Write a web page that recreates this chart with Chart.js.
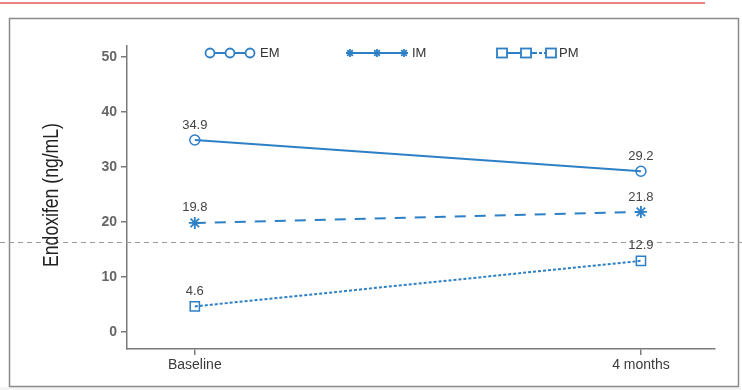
<!DOCTYPE html>
<html>
<head>
<meta charset="utf-8">
<script src="https://cdn.jsdelivr.net/npm/chart.js@4/dist/chart.umd.min.js"></script>
<style>
  html, body { margin: 0; padding: 0; background: #fff; }
  #wrap { width: 742px; height: 390px; position: relative; }
</style>
</head>
<body>
<div id="wrap"><canvas id="c" width="742" height="390"></canvas></div>
<script>
// Timepoints and endoxifen concentrations (ng/mL) per metabolizer group
const timepoints = ['Baseline', '4 months'];
const emValues = [34.9, 29.2];
const imValues = [19.8, 21.8];
const pmValues = [4.6, 12.9];
const yTickValues = [0, 10, 20, 30, 40, 50];
const threshold = 16.3;

const blue = '#2d7fc6';
const axisGray = '#7a7a7a';

function pts(vals) { return vals.map((v, i) => ({ x: i, y: v })); }

// Frame, top rule, threshold line, legend, axis title and value labels
const decor = {
  id: 'decor',
  beforeDraw(chart) {
    const ctx = chart.ctx;
    ctx.save();
    ctx.fillStyle = '#f4f4f4';
    ctx.fillRect(0, 387, 742, 3);
    ctx.strokeStyle = '#e05a5a';
    ctx.lineWidth = 1.5;
    ctx.beginPath(); ctx.moveTo(0, 3); ctx.lineTo(705, 3); ctx.stroke();
    ctx.strokeStyle = '#8a8a8a';
    ctx.lineWidth = 1.5;
    ctx.strokeRect(9.5, 18.5, 729, 368);
    ctx.restore();
  },
  afterDatasetsDraw(chart) {
    const ctx = chart.ctx;
    const ys = chart.scales.y, xs = chart.scales.x;
    ctx.save();
    // threshold line
    const ty = Math.round(ys.getPixelForValue(threshold)) + 0.5;
    ctx.strokeStyle = '#9a9a9a';
    ctx.lineWidth = 1;
    ctx.setLineDash([5, 4]);
    ctx.beginPath(); ctx.moveTo(0, ty); ctx.lineTo(742, ty); ctx.stroke();
    ctx.setLineDash([]);

    // value labels
    ctx.fillStyle = '#444';
    ctx.font = '13px "Liberation Sans", Arial, sans-serif';
    ctx.textAlign = 'center';
    ctx.textBaseline = 'middle';
    [emValues, imValues, pmValues].forEach(vals => {
      vals.forEach((v, i) => {
        ctx.fillText(v.toFixed(1), xs.getPixelForValue(i), ys.getPixelForValue(v) - 15);
      });
    });

    // axis title, horizontally condensed
    ctx.save();
    ctx.translate(52, 195);
    ctx.rotate(-Math.PI / 2);
    ctx.scale(0.8, 1);
    ctx.fillStyle = '#222';
    ctx.font = '22px "Liberation Sans", Arial, sans-serif';
    ctx.textAlign = 'center';
    ctx.textBaseline = 'middle';
    ctx.fillText('Endoxifen (ng/mL)', 0, 0);
    ctx.restore();

    // legend
    const ly = 53;
    ctx.strokeStyle = blue;
    ctx.fillStyle = blue;
    ctx.lineWidth = 1.8;
    // EM
    ctx.beginPath(); ctx.moveTo(205, ly); ctx.lineTo(255, ly); ctx.stroke();
    [210, 230, 250].forEach(x => {
      ctx.fillStyle = '#fff';
      ctx.beginPath(); ctx.arc(x, ly, 4.5, 0, Math.PI * 2); ctx.fill(); ctx.stroke();
    });
    // IM
    ctx.beginPath(); ctx.moveTo(346, ly); ctx.lineTo(408, ly); ctx.stroke();
    [350, 377, 404].forEach(x => {
      for (let a = 0; a < 4; a++) {
        const ang = a * Math.PI / 4;
        ctx.beginPath();
        ctx.moveTo(x - 4 * Math.cos(ang), ly - 4 * Math.sin(ang));
        ctx.lineTo(x + 4 * Math.cos(ang), ly + 4 * Math.sin(ang));
        ctx.stroke();
      }
    });
    // PM
    ctx.beginPath(); ctx.moveTo(497, ly); ctx.lineTo(534, ly); ctx.stroke();
    ctx.setLineDash([3, 2]);
    ctx.beginPath(); ctx.moveTo(534, ly); ctx.lineTo(552, ly); ctx.stroke();
    ctx.setLineDash([]);
    [502, 526, 551].forEach(x => {
      ctx.fillStyle = '#fff';
      ctx.fillRect(x - 5, ly - 4.5, 10, 9);
      ctx.strokeRect(x - 5, ly - 4.5, 10, 9);
    });
    ctx.fillStyle = '#333';
    ctx.font = '13px "Liberation Sans", Arial, sans-serif';
    ctx.textAlign = 'left';
    ctx.fillText('EM', 260, ly);
    ctx.fillText('IM', 412, ly);
    ctx.fillText('PM', 559, ly);
    ctx.restore();
  }
};

new Chart(document.getElementById('c'), {
  type: 'line',
  data: {
    datasets: [
      { label: 'EM', data: pts(emValues), borderColor: blue, backgroundColor: 'rgba(0,0,0,0)',
        borderWidth: 2, pointStyle: 'circle', pointRadius: 5, pointBorderWidth: 1.5 },
      { label: 'IM', data: pts(imValues), borderColor: blue, backgroundColor: blue,
        borderWidth: 2, borderDash: [11, 9], pointStyle: 'star', pointRadius: 6, pointBorderWidth: 1.8 },
      { label: 'PM', data: pts(pmValues), borderColor: blue, backgroundColor: 'rgba(0,0,0,0)',
        borderWidth: 2, borderDash: [3, 2], pointStyle: 'rect', pointRadius: 6.5, pointBorderWidth: 1.5 }
    ]
  },
  options: {
    responsive: false,
    animation: false,
    layout: { padding: { left: 0, top: 46, right: 27, bottom: 0 } },
    plugins: { legend: { display: false }, tooltip: { enabled: false } },
    scales: {
      x: {
        type: 'linear',
        min: -0.152, max: 1.166,
        afterBuildTicks: s => { s.ticks = timepoints.map((_, i) => ({ value: i })); },
        afterFit: s => { s.height = 41; },
        ticks: {
          callback: v => timepoints[v] ?? '',
          color: '#3a3a3a',
          font: { family: '"Liberation Sans", Arial, sans-serif', size: 14 },
          padding: 2,
          maxRotation: 0
        },
        grid: { drawOnChartArea: false, tickLength: 6, color: axisGray, lineWidth: 1.5 },
        border: { color: axisGray, width: 1.5 }
      },
      y: {
        type: 'linear',
        min: -3.15, max: 52,
        afterBuildTicks: s => { s.ticks = yTickValues.map(v => ({ value: v })); },
        afterFit: s => { s.width = 127; },
        ticks: {
          color: '#666',
          font: { family: '"Liberation Sans", Arial, sans-serif', size: 14, weight: 'bold' },
          padding: 4
        },
        grid: { drawOnChartArea: false, tickLength: 6, color: axisGray, lineWidth: 1.5 },
        border: { color: axisGray, width: 1.5 }
      }
    }
  },
  plugins: [decor]
});
</script>
</body>
</html>
